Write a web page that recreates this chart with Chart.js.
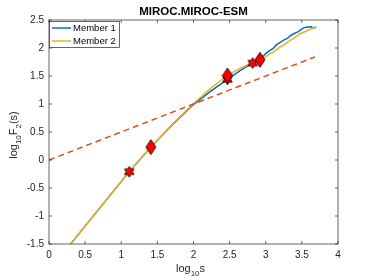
<!DOCTYPE html>
<html>
<head>
<meta charset="utf-8">
<script src="https://cdn.jsdelivr.net/npm/chart.js@4"></script>
<style>
  html, body { margin: 0; padding: 0; background: #fff; }
</style>
</head>
<body>
<canvas id="c" width="374" height="280"></canvas>
<script>
// ── Data ────────────────────────────────────────────────────
const titleText = 'MIROC.MIROC-ESM';
const seriesNames = ['Member 1', 'Member 2'];

const xTicks = [0, 0.5, 1, 1.5, 2, 2.5, 3, 3.5, 4];
const yTicks = [-1.5, -1, -0.5, 0, 0.5, 1, 1.5, 2, 2.5];

const m1X = [0.30, 0.70, 1.11, 1.41, 1.70, 2.00, 2.23, 2.47, 2.65, 2.82, 2.92, 3.00, 3.06, 3.10, 3.15, 3.20, 3.26, 3.30, 3.33, 3.38, 3.43, 3.47, 3.52, 3.56, 3.63, 3.66, 3.70];
const m1Y = [-1.50, -0.86, -0.21, 0.23, 0.62, 0.99, 1.22, 1.44, 1.60, 1.74, 1.80, 1.90, 1.96, 1.99, 2.06, 2.10, 2.15, 2.17, 2.21, 2.25, 2.28, 2.31, 2.36, 2.37, 2.38, 2.36, 2.37];

const m2X = [0.30, 0.70, 1.11, 1.41, 1.70, 2.00, 2.23, 2.47, 2.65, 2.82, 2.92, 3.00, 3.06, 3.12, 3.16, 3.20, 3.26, 3.33, 3.40, 3.47, 3.54, 3.61, 3.66, 3.70];
const m2Y = [-1.50, -0.86, -0.21, 0.23, 0.63, 1.01, 1.27, 1.51, 1.64, 1.74, 1.79, 1.84, 1.90, 1.94, 1.98, 2.02, 2.06, 2.13, 2.18, 2.25, 2.29, 2.33, 2.36, 2.37];

const fitX = [0, 3.68];
const fitY = [0, 1.84];

const starX = [1.11, 2.47, 2.82];
const starY = [-0.21, 1.44, 1.73];
const diamX = [1.41, 2.47, 2.92];
const diamY = [0.23, 1.51, 1.79];

// ── Helpers ─────────────────────────────────────────────────
const BLUE = '#0072BD', ORANGE = '#EDB120', RED = '#D95319', AXIS = '#262626';
const FAMILY = '"Liberation Sans", Arial, sans-serif';

const pts = (xs, ys) => xs.map((x, i) => ({ x, y: ys[i] }));

function makeDiamond(w, h) {
  const c = document.createElement('canvas');
  c.width = w + 2; c.height = h + 2;
  const g = c.getContext('2d');
  g.beginPath();
  g.moveTo(c.width / 2, 1);
  g.lineTo(c.width - 1, c.height / 2);
  g.lineTo(c.width / 2, c.height - 1);
  g.lineTo(1, c.height / 2);
  g.closePath();
  g.fillStyle = '#ff0000'; g.fill();
  g.strokeStyle = '#000'; g.lineWidth = 0.8; g.stroke();
  return c;
}

function makeHexagram(R, r) {
  const s = Math.ceil(R * 2 + 2);
  const c = document.createElement('canvas');
  c.width = s; c.height = s;
  const g = c.getContext('2d');
  g.beginPath();
  for (let i = 0; i < 12; i++) {
    const a = -Math.PI / 2 + i * Math.PI / 6;
    const rad = i % 2 ? r : R;
    const px = s / 2 + rad * Math.cos(a), py = s / 2 + rad * Math.sin(a);
    i ? g.lineTo(px, py) : g.moveTo(px, py);
  }
  g.closePath();
  g.fillStyle = '#ff0000'; g.fill();
  g.strokeStyle = '#000'; g.lineWidth = 0.8; g.stroke();
  return c;
}

// text with subscripts: parts = [[text, isSub], ...]
function drawParts(ctx, parts, cx, y, big, small) {
  const w = parts.reduce((a, [t, sub]) => {
    ctx.font = (sub ? small : big) + 'px ' + FAMILY;
    return a + ctx.measureText(t).width;
  }, 0);
  let x = cx - w / 2;
  parts.forEach(([t, sub]) => {
    ctx.font = (sub ? small : big) + 'px ' + FAMILY;
    ctx.fillText(t, x, sub ? y + 4 : y);
    x += ctx.measureText(t).width;
  });
}

// ── Frame, title, labels, legend ────────────────────────────
const decor = {
  id: 'decor',
  afterDraw(chart) {
    const { ctx, chartArea: a, scales: { x, y } } = chart;
    ctx.save();
    ctx.strokeStyle = AXIS;
    ctx.lineWidth = 0.7;
    ctx.strokeRect(a.left, a.top, a.right - a.left, a.bottom - a.top);
    ctx.beginPath();
    xTicks.forEach(v => {
      const px = x.getPixelForValue(v);
      ctx.moveTo(px, a.bottom); ctx.lineTo(px, a.bottom - 3);
      ctx.moveTo(px, a.top); ctx.lineTo(px, a.top + 3);
    });
    yTicks.forEach(v => {
      const py = y.getPixelForValue(v);
      ctx.moveTo(a.left, py); ctx.lineTo(a.left + 3, py);
      ctx.moveTo(a.right, py); ctx.lineTo(a.right - 3, py);
    });
    ctx.stroke();

    ctx.fillStyle = '#000';
    ctx.textAlign = 'center';
    ctx.textBaseline = 'alphabetic';
    ctx.font = 'bold 11.5px ' + FAMILY;
    ctx.fillText(titleText, (a.left + a.right) / 2, 15);

    ctx.fillStyle = AXIS;
    ctx.textAlign = 'left';
    drawParts(ctx, [['log', false], ['10', true], ['s', false]], (a.left + a.right) / 2 - 3, 272, 11, 8);

    ctx.save();
    ctx.translate(17, 135);
    ctx.rotate(-Math.PI / 2);
    drawParts(ctx, [['log', false], ['10', true], ['F', false], ['2', true], ['(s)', false]], 0, 0, 11, 8);
    ctx.restore();

    // legend
    const lx = a.left + 0.5, ly = a.top + 1.5, lw = 70, lh = 26;
    ctx.fillStyle = '#fff';
    ctx.fillRect(lx, ly, lw, lh);
    ctx.strokeStyle = AXIS;
    ctx.lineWidth = 0.7;
    ctx.strokeRect(lx, ly, lw, lh);
    ctx.font = '9.5px ' + FAMILY;
    ctx.textBaseline = 'middle';
    [BLUE, ORANGE].forEach((col, i) => {
      const yy = ly + 6.5 + i * 13;
      ctx.strokeStyle = col;
      ctx.lineWidth = 1.5;
      ctx.beginPath(); ctx.moveTo(lx + 2.5, yy); ctx.lineTo(lx + 21.5, yy); ctx.stroke();
      ctx.fillStyle = '#000';
      ctx.fillText(seriesNames[i], lx + 23.5, yy + 0.5);
    });
    ctx.restore();
  }
};

// ── Chart ───────────────────────────────────────────────────
const tickFont = { family: FAMILY, size: 10 };

new Chart(document.getElementById('c'), {
  type: 'scatter',
  data: {
    datasets: [
      { label: 'hexagram', data: pts(starX, starY), pointStyle: makeHexagram(5.5, 3.2), order: 1 },
      { label: 'diamond', data: pts(diamX, diamY), pointStyle: makeDiamond(10, 15), order: 0 },
      { label: 'fit', data: pts(fitX, fitY), showLine: true, borderColor: RED, borderWidth: 1.5,
        borderDash: [6, 4], pointRadius: 0, order: 2 },
      { label: seriesNames[1], data: pts(m2X, m2Y), showLine: true, borderColor: ORANGE, borderWidth: 1.5,
        pointRadius: 0, order: 3 },
      { label: seriesNames[0], data: pts(m1X, m1Y), showLine: true, borderColor: BLUE, borderWidth: 1.5,
        pointRadius: 0, order: 4 }
    ]
  },
  options: {
    responsive: false,
    animation: false,
    devicePixelRatio: 1,
    layout: { padding: { top: 20, right: 36, left: 0, bottom: 0 } },
    plugins: { legend: { display: false }, tooltip: { enabled: false } },
    scales: {
      x: {
        type: 'linear', min: 0, max: 4,
        afterBuildTicks: s => { s.ticks = xTicks.map(v => ({ value: v })); },
        afterFit: s => { s.height = 36; },
        grid: { display: false, drawTicks: false }, border: { display: false },
        ticks: { font: tickFont, color: AXIS, padding: 5, maxRotation: 0, callback: v => String(v) }
      },
      y: {
        type: 'linear', min: -1.5, max: 2.5,
        afterBuildTicks: s => { s.ticks = yTicks.map(v => ({ value: v })); },
        afterFit: s => { s.width = 49; },
        grid: { display: false, drawTicks: false }, border: { display: false },
        ticks: { font: tickFont, color: AXIS, padding: 5, callback: v => String(v) }
      }
    }
  },
  plugins: [decor]
});
</script>
</body>
</html>
